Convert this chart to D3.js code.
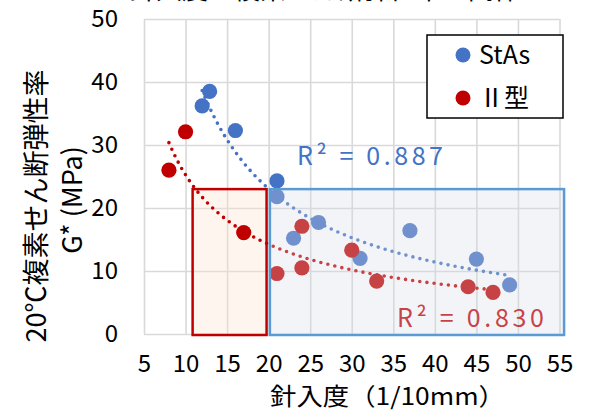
<!DOCTYPE html>
<html><head><meta charset="utf-8">
<script src="https://cdn.jsdelivr.net/npm/d3@7"></script>
<style>body{margin:0;background:#fff;overflow:hidden} svg{display:block}</style>
</head><body>
<script>
// ---- data ----
const xTicks = [5,10,15,20,25,30,35,40,45,50,55];
const yTicks = [0,10,20,30,40,50];
const stasX = [12,12.9,16,21,21,23,26,31,37,45,49];
const stasY = [36.2,38.5,32.3,24.3,21.8,15.2,17.7,12.0,16.4,11.9,7.8];
const type2X = [8,10,17,21,24,24,30,33,44,47];
const type2Y = [26,32.1,16.1,9.6,17.1,10.5,13.3,8.4,7.5,6.6];
const seriesNames = ["StAs","Ⅱ型"];
const r2Labels = ["R² = 0.887","R² = 0.830"];
const redBox = [10.85, 19.75, 23];   // x0, x1, top (data units)
const blueBox = [20.15, 55.55, 23];
const titleText = "針入度と複素せん断弾性率の関係";
const xTitle = "針入度（1/10mm）";
const yTitle1 = "20℃複素せん断弾性率";
const yTitle2 = "G* (MPa)";

const W = 590, H = 412;
const L = 144, R = 559.5, T = 19, B = 334;
const blue = "#4472C4", red = "#C00000";
const font = "'Noto Sans CJK JP','Noto Sans',sans-serif";

const svg = d3.select("body").append("svg").attr("width", W).attr("height", H)
  .style("font-family", font);

const x = d3.scaleLinear().domain([5,55]).range([L,R]);
const y = d3.scaleLinear().domain([0,50]).range([B,T]);

// title (mostly cut off at top, as in the reference)
svg.append("text").attr("x", 325).attr("y", -1.5).attr("text-anchor","middle")
  .attr("font-size", 26).attr("fill","#000").text(titleText);

// grid + axes
const gx = svg.append("g").attr("transform", `translate(0,${B})`)
  .call(d3.axisBottom(x).tickValues(xTicks).tickSize(-(B-T)).tickPadding(21).tickFormat(d3.format("d")));
const gy = svg.append("g").attr("transform", `translate(${L},0)`)
  .call(d3.axisLeft(y).tickValues(yTicks).tickSize(-(R-L)).tickPadding(26).tickFormat(d3.format("d")));
[gx, gy].forEach(g => {
  g.select(".domain").remove();
  g.selectAll("line").attr("stroke","#D9D9D9").attr("stroke-width",1.6);
  g.selectAll("text").attr("font-size",24).attr("fill","#000").style("font-family", font);
});

// red box (behind points)
svg.append("rect")
  .attr("x", x(redBox[0])).attr("y", y(redBox[2]))
  .attr("width", x(redBox[1]) - x(redBox[0])).attr("height", B + 1 - y(redBox[2]))
  .attr("fill", "rgba(251,226,208,0.35)").attr("stroke", red).attr("stroke-width", 2.5);

// power trendline (least squares on log-log, as a spreadsheet power trendline)
function powerFit(xs, ys) {
  const lx = xs.map(Math.log), ly = ys.map(Math.log);
  const mx = d3.mean(lx), my = d3.mean(ly);
  const b = d3.sum(lx, (v,i) => (v-mx)*(ly[i]-my)) / d3.sum(lx, v => (v-mx)**2);
  const a = Math.exp(my - b*mx);
  return v => a * Math.pow(v, b);
}
function trend(xs, ys, color) {
  const f = powerFit(xs, ys);
  const x0 = d3.min(xs), x1 = d3.max(xs);
  const pts = d3.range(0, 101).map(i => { const v = x0 + (x1-x0)*i/100; return [v, f(v)]; });
  svg.append("path").datum(pts)
    .attr("d", d3.line().x(d => x(d[0])).y(d => y(d[1])))
    .attr("fill","none").attr("stroke", color).attr("stroke-width", 3.6)
    .attr("stroke-linecap","round").attr("stroke-dasharray","0 7.2");
}
trend(stasX, stasY, blue);
trend(type2X, type2Y, red);

// points
function pts(xs, ys, color) {
  svg.append("g").selectAll("circle").data(xs.map((v,i)=>[v, ys[i]])).join("circle")
    .attr("cx", d => x(d[0])).attr("cy", d => y(d[1])).attr("r", 7.6).attr("fill", color);
}
pts(stasX, stasY, blue);
pts(type2X, type2Y, red);

// R² labels
svg.append("text").attr("x", 297).attr("y", 165).attr("font-size", 25).attr("fill", blue)
  .attr("textLength", 146).attr("lengthAdjust","spacing").text(r2Labels[0]);
svg.append("text").attr("x", 397).attr("y", 327).attr("font-size", 25).attr("fill", red)
  .attr("textLength", 147).attr("lengthAdjust","spacing").text(r2Labels[1]);

// blue box (over points, semi-transparent)
svg.append("rect")
  .attr("x", x(blueBox[0])).attr("y", y(blueBox[2]))
  .attr("width", x(blueBox[1]) - x(blueBox[0])).attr("height", B + 1 - y(blueBox[2]))
  .attr("fill", "rgba(214,220,229,0.3)").attr("stroke", "#5B9BD5").attr("stroke-width", 2.5);

// legend
const lg = svg.append("g");
lg.append("rect").attr("x", 427).attr("y", 35).attr("width", 136).attr("height", 83)
  .attr("fill","#fff").attr("stroke","#000").attr("stroke-width",1.5);
[[blue, seriesNames[0], 55],[red, seriesNames[1], 98]].forEach(([c, t, cy]) => {
  lg.append("circle").attr("cx", 463).attr("cy", cy).attr("r", 7.5).attr("fill", c);
  lg.append("text").attr("x", 479).attr("y", cy).attr("dy","0.36em").attr("font-size", 25)
    .attr("fill","#000").text(t);
});

// axis titles
svg.append("text").attr("x", 270).attr("y", 405).attr("font-size", 24).attr("fill","#000")
  .attr("textLength", 235).attr("lengthAdjust","spacingAndGlyphs").text(xTitle);
svg.append("text").attr("transform","translate(46,206) rotate(-90)").attr("text-anchor","middle")
  .attr("font-size", 27).attr("fill","#000").text(yTitle1);
svg.append("text").attr("transform","translate(82,200) rotate(-90)").attr("text-anchor","middle")
  .attr("font-size", 27).attr("fill","#000").text(yTitle2);
</script>
</body></html>
